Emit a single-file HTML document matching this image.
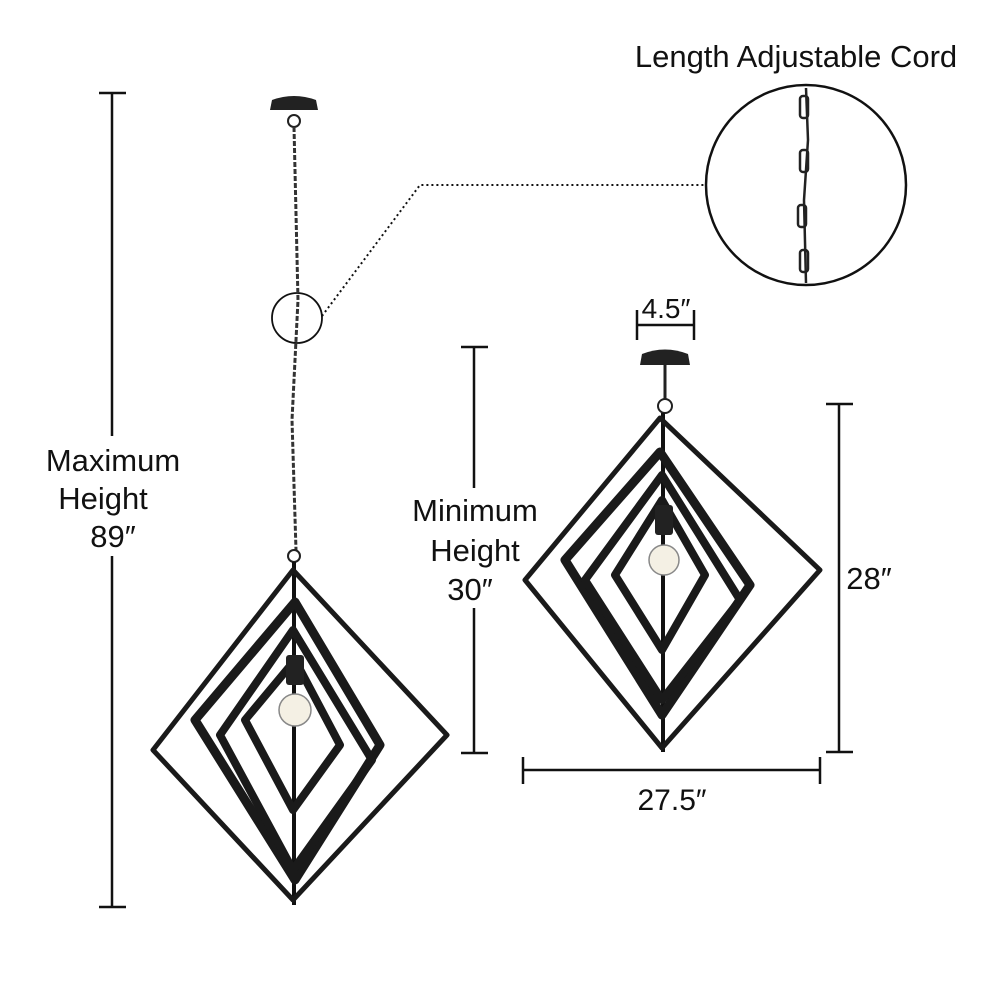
<!DOCTYPE html>
<html><head><meta charset="utf-8"><style>html,body{margin:0;padding:0;background:#fff}svg{display:block}text{font-family:"Liberation Sans",sans-serif;fill:#111}</style></head><body>
<svg width="1000" height="1000" viewBox="0 0 1000 1000">
<g stroke="#111" stroke-width="2.5" fill="none">
<line x1="112" y1="93" x2="112" y2="907"/><line x1="99" y1="93" x2="126" y2="93"/><line x1="99" y1="907" x2="126" y2="907"/>
<line x1="474" y1="347" x2="474" y2="753"/><line x1="461" y1="347" x2="488" y2="347"/><line x1="461" y1="753" x2="488" y2="753"/>
<line x1="839" y1="404" x2="839" y2="752"/><line x1="826" y1="404" x2="853" y2="404"/><line x1="826" y1="752" x2="853" y2="752"/>
<line x1="523" y1="770" x2="820" y2="770"/><line x1="523" y1="757" x2="523" y2="784"/><line x1="820" y1="757" x2="820" y2="784"/>
<line x1="637" y1="325" x2="694" y2="325"/><line x1="637" y1="310" x2="637" y2="340"/><line x1="694" y1="310" x2="694" y2="340"/>
</g>
<rect x="36" y="436" width="155" height="120" fill="#fff"/>
<rect x="398" y="488" width="156" height="120" fill="#fff"/>
<rect x="845" y="556" width="52" height="40" fill="#fff"/>
<text x="113" y="471" font-size="31" text-anchor="middle">Maximum</text>
<text x="103" y="509" font-size="31" text-anchor="middle">Height</text>
<text x="113" y="547" font-size="31" text-anchor="middle">89″</text>
<text x="475" y="521" font-size="31" text-anchor="middle">Minimum</text>
<text x="475" y="561" font-size="31" text-anchor="middle">Height</text>
<text x="470" y="600" font-size="31" text-anchor="middle">30″</text>
<text x="869" y="589" font-size="31" text-anchor="middle">28″</text>
<text x="672" y="810" font-size="30" text-anchor="middle">27.5″</text>
<text x="666" y="318" font-size="28" text-anchor="middle">4.5″</text>
<text x="796" y="67" font-size="31" text-anchor="middle">Length Adjustable Cord</text>

<circle cx="297" cy="318" r="25" fill="none" stroke="#111" stroke-width="1.8"/>
<polyline points="322,316 420,185 706,185" fill="none" stroke="#111" stroke-width="2" stroke-dasharray="2,3"/>
<circle cx="806" cy="185" r="100" fill="none" stroke="#111" stroke-width="2.5"/>
<g stroke="#222" stroke-width="2.5" fill="none">
<path d="M806 88 L808 140 L804 200 L806 283"/>
<rect x="800" y="96" width="8" height="22" rx="3"/><rect x="800" y="150" width="8" height="22" rx="3"/><rect x="798" y="205" width="8" height="22" rx="3"/><rect x="800" y="250" width="8" height="22" rx="3"/>
</g>

<path d="M270 110 L272 100 Q294 92 316 100 L318 110 Z" fill="#222"/>
<circle cx="294" cy="121" r="6" fill="none" stroke="#222" stroke-width="2"/>
<path d="M294 127 L298 300 L292 420 L296 550" stroke="#333" stroke-width="3" stroke-dasharray="5,2" fill="none"/>
<circle cx="294" cy="556" r="6" fill="none" stroke="#222" stroke-width="2"/>
<line x1="294" y1="562" x2="294" y2="905" stroke="#111" stroke-width="4"/>
<g fill="none" stroke="#1a1a1a" stroke-linejoin="round">
<polygon points="293,570 447,735 293,900 153,750" stroke-width="5"/>
<polygon points="295,602 380,745 295,880 195,720" stroke-width="9"/>
<polygon points="293,630 372,760 293,870 220,735" stroke-width="8"/>
<polygon points="295,660 340,745 293,810 245,720" stroke-width="8"/>
</g>
<rect x="286" y="655" width="18" height="30" rx="3" fill="#222"/>
<circle cx="295" cy="710" r="16" fill="#f4f0e4" stroke="#888" stroke-width="1.5"/>

<path d="M640 365 L642 354 Q665 345 688 354 L690 365 Z" fill="#222"/>
<line x1="665" y1="365" x2="665" y2="400" stroke="#222" stroke-width="3"/>
<circle cx="665" cy="406" r="7" fill="none" stroke="#222" stroke-width="2"/>
<line x1="663" y1="413" x2="663" y2="752" stroke="#111" stroke-width="4"/>
<g fill="none" stroke="#1a1a1a" stroke-linejoin="round">
<polygon points="660,418 820,570 662,748 525,580" stroke-width="5"/>
<polygon points="660,452 750,585 662,715 565,560" stroke-width="9"/>
<polygon points="662,475 740,600 662,700 585,580" stroke-width="8"/>
<polygon points="662,500 705,575 662,650 615,575" stroke-width="8"/>
</g>
<rect x="655" y="505" width="18" height="30" rx="3" fill="#222"/>
<circle cx="664" cy="560" r="15" fill="#f4f0e4" stroke="#888" stroke-width="1.5"/>
</svg>
</body></html>
